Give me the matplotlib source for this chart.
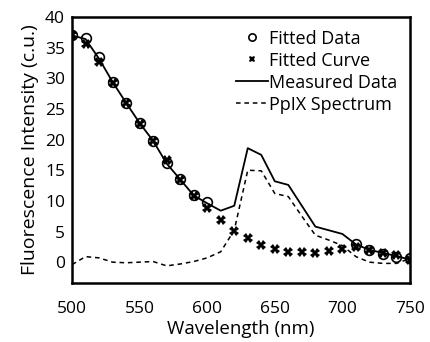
import numpy as np
import matplotlib
matplotlib.use("Agg")
import matplotlib.pyplot as plt

# Wavelength grid (nm)
wl = np.arange(500, 751, 10)

# Fitted data (circles): only at start and end of the range
fit_wl = [500, 510, 520, 530, 540, 550, 560, 570, 580, 590, 600,
          710, 720, 730, 740, 750]
fit_data = [37.0, 36.5, 33.4, 29.4, 26.0, 22.7, 19.8, 16.1, 13.5, 10.9, 9.8,
            2.9, 2.0, 1.4, 0.9, 0.6]

fit_curve = [37.0, 35.6, 32.6, 29.3, 26.0, 22.6, 19.7, 16.7, 13.4, 10.8, 8.8,
             6.9, 5.1, 3.9, 2.8, 2.1, 1.7, 1.6, 1.5, 1.8, 2.1, 2.5,
             2.0, 1.5, 1.1, 0.4]

measured = [37.0, 36.4, 33.2, 29.4, 26.0, 22.7, 19.8, 16.1, 13.5, 10.9, 9.6,
            8.4, 9.2, 18.6, 17.5, 13.2, 12.6, 9.2, 5.8, 5.2, 4.6, 2.9,
            2.0, 1.5, 1.0, 0.4]

ppix = [-0.4, 0.9, 0.7, 0.0, -0.1, 0.0, 0.1, -0.6, -0.3, 0.1, 0.7,
        1.7, 5.2, 15.0, 14.9, 11.2, 10.7, 7.5, 4.4, 3.6, 2.7, 0.9,
        0.0, -0.2, -0.2, 0.6]

plt.rcParams['font.family'] = ['Open Sans', 'DejaVu Sans']
plt.rcParams['font.size'] = 12.5

fig = plt.figure(figsize=(4.3, 3.42), dpi=100)
ax = fig.add_axes([72/430, 1-283/342, (410-72)/430, (283-17)/342])

ax.plot(fit_wl, fit_data, 'o', mfc='none', mec='black', mew=1.2, ms=7,
        label='Fitted Data')
ax.plot(wl, fit_curve, 'X', color='black', ms=6.5, mew=0, label='Fitted Curve')
ax.plot(wl, measured, '-', color='black', lw=1.3, label='Measured Data')
ax.plot(wl, ppix, '--', color='black', lw=1.1, dashes=(3, 2.5),
        label='PpIX Spectrum')

ax.set_xlim(500, 750)
ax.set_ylim(-3.4, 40)
ax.set_xticks(range(500, 751, 50))
ax.set_yticks(range(0, 41, 5))
ax.tick_params(length=0)
ax.tick_params(axis='x', pad=13)
ax.tick_params(axis='y', pad=5)
for s in ax.spines.values():
    s.set_linewidth(1.8)

ax.set_xlabel('Wavelength (nm)', fontsize=13.5, labelpad=2)
ax.set_ylabel('Fluorescence Intensity (c.u.)', fontsize=14, labelpad=4)

ax.legend(loc='upper right', frameon=False, handlelength=1.8,
          handletextpad=0.05, labelspacing=0.22, borderaxespad=0.3,
          markerscale=0.75, fontsize=13)

fig.savefig('out.png', dpi=100)
